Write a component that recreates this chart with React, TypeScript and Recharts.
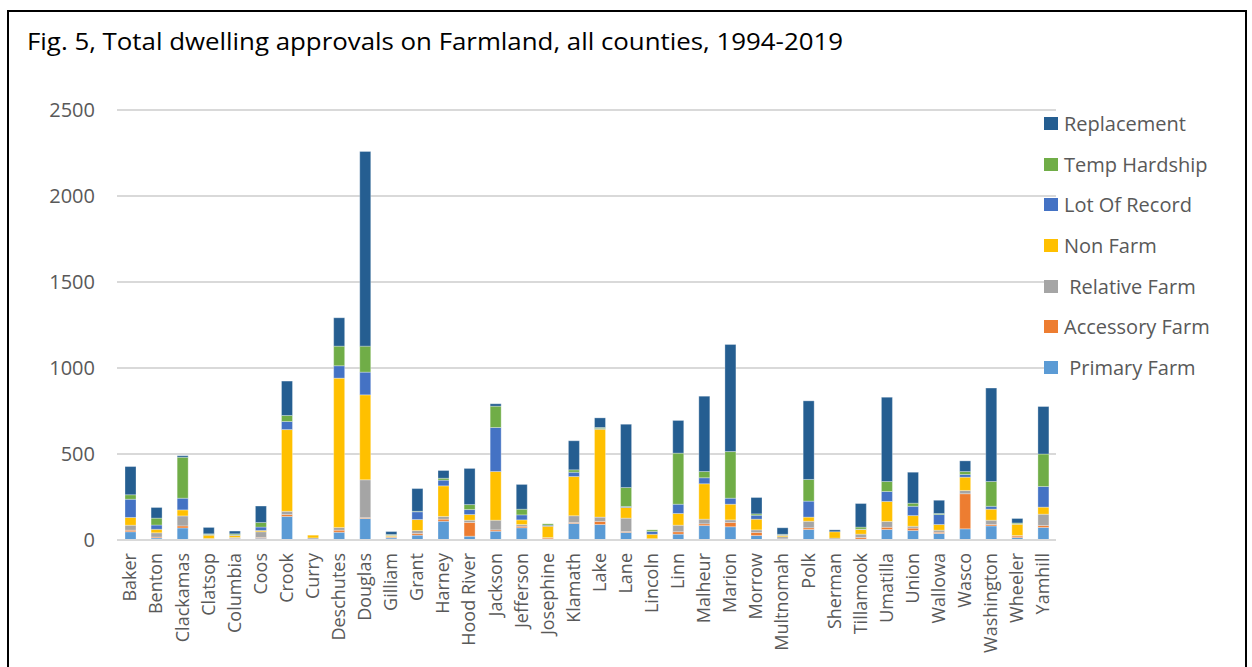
import { BarChart, Bar, XAxis, YAxis, CartesianGrid } from "recharts";

// dwelling approvals by county, 1994-2019
const counties = [
  "Baker", "Benton", "Clackamas", "Clatsop", "Columbia", "Coos", "Crook", "Curry",
  "Deschutes", "Douglas", "Gilliam", "Grant", "Harney", "Hood River", "Jackson",
  "Jefferson", "Josephine", "Klamath", "Lake", "Lane", "Lincoln", "Linn", "Malheur",
  "Marion", "Morrow", "Multnomah", "Polk", "Sherman", "Tillamook", "Umatilla",
  "Union", "Wallowa", "Wasco", "Washington", "Wheeler", "Yamhill",
];

const primaryFarm = [48, 12, 70, 3, 10, 10, 137, 2, 45, 125, 12, 28, 109, 22, 51, 71, 3, 96, 90, 44, 3, 34, 84, 77, 26, 5, 61, 2, 5, 61, 55, 38, 65, 82, 14, 73];
const accessoryFarm = [9, 5, 12, 3, 2, 5, 11, 2, 12, 5, 4, 10, 12, 80, 8, 9, 8, 6, 18, 5, 2, 14, 10, 25, 18, 2, 10, 1, 10, 13, 14, 7, 204, 8, 9, 11];
const relativeFarm = [29, 25, 58, 3, 3, 33, 19, 8, 16, 220, 4, 17, 16, 13, 56, 10, 3, 39, 25, 78, 3, 38, 27, 15, 15, 12, 38, 8, 19, 34, 11, 12, 19, 25, 3, 66];
const nonFarm = [45, 20, 35, 19, 12, 7, 475, 16, 868, 494, 6, 64, 178, 33, 283, 27, 66, 228, 511, 62, 25, 68, 206, 91, 62, 8, 24, 37, 27, 116, 62, 33, 77, 64, 66, 41];
const lotOfRecord = [106, 25, 68, 4, 3, 20, 47, 0, 72, 132, 2, 45, 33, 29, 256, 29, 6, 25, 4, 6, 17, 54, 35, 35, 23, 3, 93, 0, 2, 58, 54, 58, 16, 17, 2, 120];
const tempHardship = [26, 40, 238, 4, 6, 27, 35, 0, 114, 151, 4, 3, 11, 29, 124, 33, 8, 14, 6, 110, 9, 297, 36, 271, 8, 3, 126, 0, 12, 58, 18, 6, 17, 144, 5, 189];
const replacement = [164, 62, 9, 37, 16, 95, 200, 0, 165, 1132, 17, 132, 45, 210, 14, 144, 0, 169, 56, 368, 0, 190, 438, 623, 95, 38, 457, 11, 137, 490, 180, 77, 62, 543, 26, 276];

const yTicks = [0, 500, 1000, 1500, 2000, 2500];

const series = [
  { key: "primary", name: " Primary Farm", color: "#5B9BD5", values: primaryFarm },
  { key: "accessory", name: "Accessory Farm", color: "#ED7D31", values: accessoryFarm },
  { key: "relative", name: " Relative Farm", color: "#A5A5A5", values: relativeFarm },
  { key: "nonFarm", name: "Non Farm", color: "#FFC000", values: nonFarm },
  { key: "lot", name: "Lot Of Record", color: "#4472C4", values: lotOfRecord },
  { key: "temp", name: "Temp Hardship", color: "#70AD47", values: tempHardship },
  { key: "replacement", name: "Replacement", color: "#255E91", values: replacement },
];

const data = counties.map((county, i) => {
  const row: Record<string, string | number> = { county };
  series.forEach((s) => {
    row[s.key] = s.values[i];
  });
  return row;
});

const FONT = "'Open Sans', sans-serif";
const GREY_TEXT = "#595959";

const CountyTick = ({ x, y, payload }: any) => (
  <text
    x={x}
    y={y}
    transform={`rotate(-90, ${x}, ${y})`}
    textAnchor="end"
    dy="0.35em"
    fontSize={18}
    fontFamily={FONT}
    fill={GREY_TEXT}
  >
    {payload.value}
  </text>
);

// legend sits to the right of the plot, top entry = top of the stack
const SeriesLegend = () => (
  <div style={{ position: "absolute", left: 1044, top: 103, fontFamily: FONT }}>
    {[...series].reverse().map((s) => (
      <div key={s.key} style={{ display: "flex", alignItems: "center", height: 40.7 }}>
        <span style={{ width: 14, height: 13, background: s.color, display: "inline-block" }} />
        <span style={{ marginLeft: 6, fontSize: 20, color: GREY_TEXT, whiteSpace: "pre" }}>{s.name}</span>
      </div>
    ))}
  </div>
);

export default function App() {
  return (
    <div style={{ position: "absolute", left: 0, top: 0, width: 1252, height: 667, overflow: "hidden", background: "#fff" }}>
      <div
        style={{
          position: "absolute",
          left: 7,
          top: 10,
          width: 1236,
          height: 700,
          border: "2px solid #000",
        }}
      />
      <svg width={1252} height={70} style={{ position: "absolute", left: 0, top: 0 }}>
        <text x={27} y={50} fontSize={24} fontFamily={FONT} fill="#000" textLength={816} lengthAdjust="spacingAndGlyphs">
          Fig. 5, Total dwelling approvals on Farmland, all counties, 1994-2019
        </text>
      </svg>
      <div style={{ position: "absolute", left: 0, top: 0 }}>
        <BarChart
          width={1252}
          height={667}
          data={data}
          barSize={11}
          margin={{ top: 110, right: 196, bottom: 7, left: 37 }}
        >
          <CartesianGrid vertical={false} stroke="#d9d9d9" strokeWidth={2} />
          <XAxis
            dataKey="county"
            interval={0}
            height={120}
            tick={<CountyTick />}
            tickLine={false}
            tickSize={0}
            tickMargin={13}
            axisLine={{ stroke: "#d9d9d9", strokeWidth: 2 }}
          />
          <YAxis
            width={80}
            domain={[0, 2500]}
            ticks={yTicks}
            tickLine={false}
            tickSize={0}
            tickMargin={22}
            axisLine={false}
            tick={{ fontSize: 20, fontFamily: FONT, fill: GREY_TEXT }}
          />
          {series.map((s) => (
            <Bar
              key={s.key}
              dataKey={s.key}
              name={s.name}
              stackId="a"
              fill={s.color}
              stroke="#ffffff"
              strokeOpacity={0.5}
              strokeWidth={0.6}
              isAnimationActive={false}
            />
          ))}
        </BarChart>
      </div>
      <SeriesLegend />
    </div>
  );
}
